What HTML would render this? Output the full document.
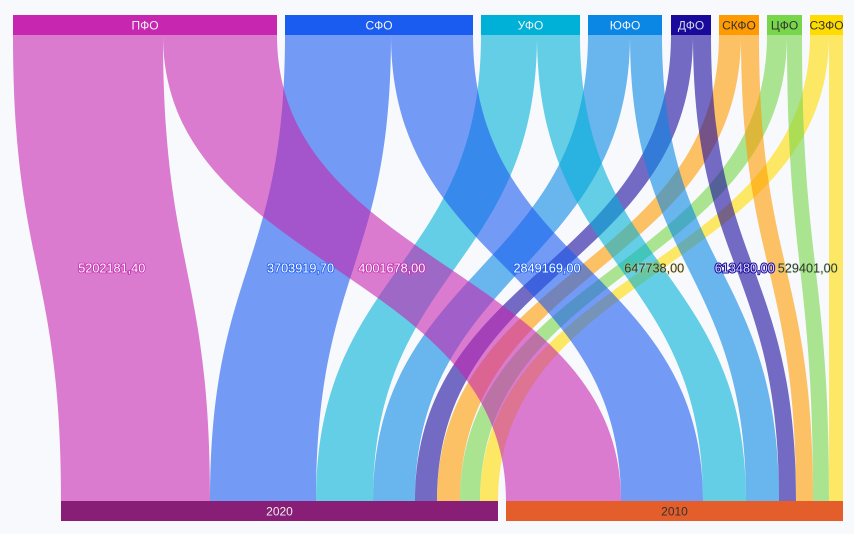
<!DOCTYPE html>
<html><head><meta charset="utf-8"><style>
html,body{margin:0;padding:0;background:#f8f9fd;}
svg{display:block;}
text{font-family:"Liberation Sans","DejaVu Sans",sans-serif;font-size:12px;}
.ll text{font-size:12.7px;}
</style></head><body>
<svg width="854" height="534" viewBox="0 0 854 534" xmlns="http://www.w3.org/2000/svg">
<rect x="0" y="0" width="854" height="534" fill="#f8f9fd"/>
<g fill-opacity="0.6">
<path d="M13 35 C13 268 61 268 61 501 L210 501 C210 268 163 268 163 35 Z" fill="#C626B0"/>
<path d="M285 35 C285 268 210 268 210 501 L316 501 C316 268 391 268 391 35 Z" fill="#1B5CF0"/>
<path d="M481 35 C481 268 316 268 316 501 L373 501 C373 268 537 268 537 35 Z" fill="#00B1D7"/>
<path d="M588 35 C588 268 373 268 373 501 L415 501 C415 268 630 268 630 35 Z" fill="#0A87E4"/>
<path d="M671 35 C671 268 415 268 415 501 L437 501 C437 268 693 268 693 35 Z" fill="#1A0A9C"/>
<path d="M719 35 C719 268 437 268 437 501 L460 501 C460 268 741 268 741 35 Z" fill="#FF9A00"/>
<path d="M767 35 C767 268 460 268 460 501 L480 501 C480 268 787 268 787 35 Z" fill="#77D64A"/>
<path d="M810 35 C810 268 480 268 480 501 L498 501 C498 268 829 268 829 35 Z" fill="#FFDC00"/>
<path d="M163 35 C163 268 506 268 506 501 L621 501 C621 268 277 268 277 35 Z" fill="#C626B0"/>
<path d="M391 35 C391 268 621 268 621 501 L703 501 C703 268 473 268 473 35 Z" fill="#1B5CF0"/>
<path d="M537 35 C537 268 703 268 703 501 L746 501 C746 268 580 268 580 35 Z" fill="#00B1D7"/>
<path d="M630 35 C630 268 746 268 746 501 L779 501 C779 268 662 268 662 35 Z" fill="#0A87E4"/>
<path d="M693 35 C693 268 779 268 779 501 L796 501 C796 268 711 268 711 35 Z" fill="#1A0A9C"/>
<path d="M741 35 C741 268 796 268 796 501 L813 501 C813 268 759 268 759 35 Z" fill="#FF9A00"/>
<path d="M787 35 C787 268 813 268 813 501 L829 501 C829 268 802 268 802 35 Z" fill="#77D64A"/>
<path d="M829 35 C829 268 829 268 829 501 L843 501 C843 268 843 268 843 35 Z" fill="#FFDC00"/>
</g>
<rect x="13" y="15" width="264" height="20" fill="#C626B0"/>
<rect x="285" y="15" width="188" height="20" fill="#1B5CF0"/>
<rect x="481" y="15" width="99" height="20" fill="#00B1D7"/>
<rect x="588" y="15" width="74" height="20" fill="#0A87E4"/>
<rect x="671" y="15" width="40" height="20" fill="#1A0A9C"/>
<rect x="719" y="15" width="40" height="20" fill="#FF9A00"/>
<rect x="767" y="15" width="35" height="20" fill="#77D64A"/>
<rect x="810" y="15" width="33" height="20" fill="#FFDC00"/>
<rect x="61" y="501" width="437" height="20" fill="#891E77"/>
<rect x="506" y="501" width="337" height="20" fill="#E45E2B"/>
<g text-anchor="middle">
<text x="145" y="29.5" fill="#f4f4f4">ПФО</text>
<text x="379" y="29.5" fill="#f4f4f4">СФО</text>
<text x="530.5" y="29.5" fill="#f4f4f4">УФО</text>
<text x="625" y="29.5" fill="#f4f4f4">ЮФО</text>
<text x="691" y="29.5" fill="#d8d8ee">ДФО</text>
<text x="739" y="29.5" fill="#333">СКФО</text>
<text x="784.5" y="29.5" fill="#333">ЦФО</text>
<text x="826.5" y="29.5" fill="#333">СЗФО</text>
<text x="279.5" y="515.5" fill="#eee">2020</text>
<text x="674.5" y="515.5" fill="#333">2010</text>
</g>
<g class="ll" text-anchor="middle" stroke-width="1.6" stroke-linejoin="round" style="paint-order:stroke">
<text x="111.75" y="272.5" fill="#fff" stroke="#C626B0">5202181,40</text>
<text x="300.5" y="272.5" fill="#fff" stroke="#1B5CF0">3703919,70</text>
<text x="391.75" y="272.5" fill="#fff" stroke="#C626B0">4001678,00</text>
<text x="547" y="272.5" fill="#fff" stroke="#1B5CF0">2849169,00</text>
<text x="654.25" y="272.5" fill="#333" stroke="#FFDC00" stroke-opacity="0.3">647738,00</text>
<text x="744.75" y="272.5" fill="#dcdcff" stroke="#1A0A9C" stroke-width="2">613480,00</text>
<text x="807.75" y="272.5" fill="#333" stroke="#77D64A" stroke-opacity="0.2">529401,00</text>
</g>
</svg>
</body></html>
